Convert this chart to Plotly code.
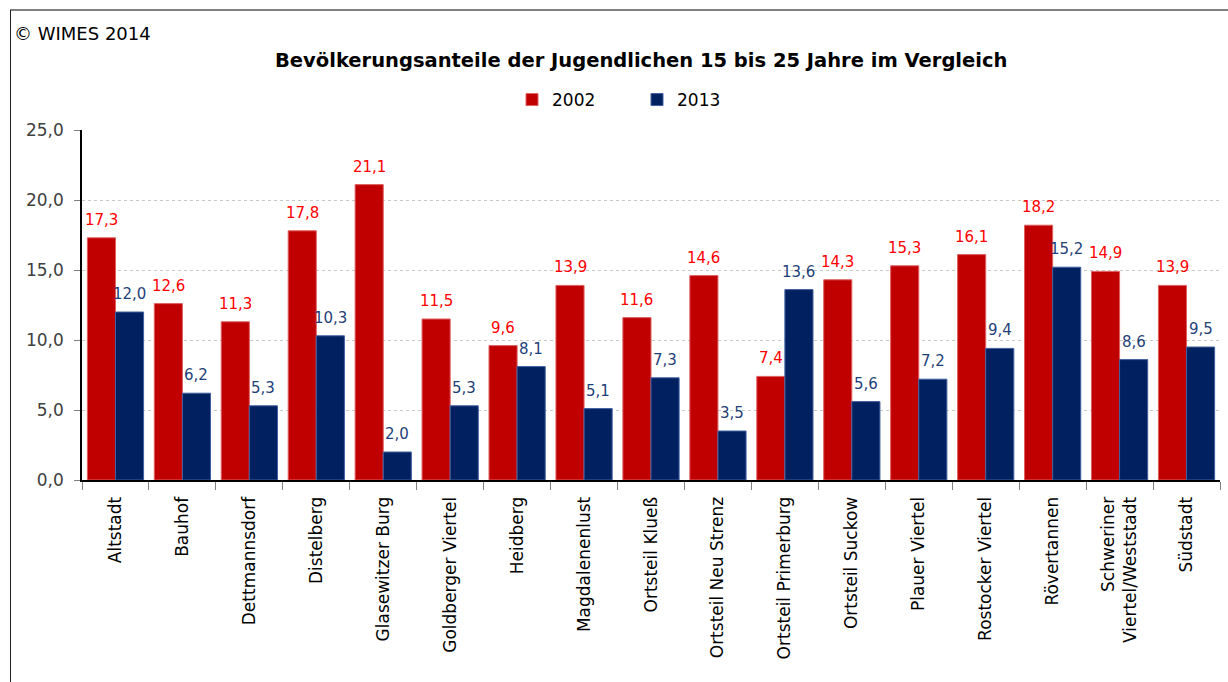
import plotly.graph_objects as go

categories = ["Altstadt", "Bauhof", "Dettmannsdorf", "Distelberg", "Glasewitzer Burg",
              "Goldberger Viertel", "Heidberg", "Magdalenenlust", "Ortsteil Klueß",
              "Ortsteil Neu Strenz", "Ortsteil Primerburg", "Ortsteil Suckow",
              "Plauer Viertel", "Rostocker Viertel", "Rövertannen",
              "Schweriner<br>Viertel/Weststadt", "Südstadt"]
values_2002 = [17.3, 12.6, 11.3, 17.8, 21.1, 11.5, 9.6, 13.9, 11.6, 14.6, 7.4, 14.3, 15.3, 16.1, 18.2, 14.9, 13.9]
values_2013 = [12.0, 6.2, 5.3, 10.3, 2.0, 5.3, 8.1, 5.1, 7.3, 3.5, 13.6, 5.6, 7.2, 9.4, 15.2, 8.6, 9.5]
y_ticks = [0, 5, 10, 15, 20, 25]

W, H = 1228, 682
L, R, T, B = 82, 1220, 130, 480
FONT = "DejaVu Sans"
BARGAP = 0.16

def px_x(p):
    return (p - L) / (R - L)

def px_y(p):
    return (B - p) / (B - T)

fig = go.Figure()
fig.add_trace(go.Bar(
    x=categories, y=values_2002, name="2002",
    marker=dict(color="#C00000", line=dict(color="#E06060", width=1)),
))
fig.add_trace(go.Bar(
    x=categories, y=values_2013, name="2013",
    marker=dict(color="#002060", line=dict(color="#4060A0", width=1)),
))

# data labels centred over each bar
cat_w = (R - L) / len(categories)
half_bar = cat_w * (1 - BARGAP) / 4
annotations = []
for cat, v in zip(categories, values_2002):
    annotations.append(dict(x=cat, y=v, xref="x", yref="y", text=f"{v:.1f}".replace(".", ","),
                            showarrow=False, xshift=-half_bar, yshift=7, yanchor="bottom",
                            font=dict(size=15, family=FONT, color="#FF0000")))
for cat, v in zip(categories, values_2013):
    annotations.append(dict(x=cat, y=v, xref="x", yref="y", text=f"{v:.1f}".replace(".", ","),
                            showarrow=False, xshift=half_bar, yshift=7, yanchor="bottom",
                            font=dict(size=15, family=FONT, color="#1F3F78")))

annotations += [
    dict(text="© WIMES 2014", xref="paper", yref="paper", x=px_x(12), y=px_y(33),
         xanchor="left", yanchor="middle", showarrow=False,
         font=dict(size=18, family=FONT, color="#000000")),
    dict(text="<b>Bevölkerungsanteile der Jugendlichen 15 bis 25 Jahre im Vergleich</b>",
         xref="paper", yref="paper", x=px_x(641), y=px_y(60),
         xanchor="center", yanchor="middle", showarrow=False,
         font=dict(size=19.5, family=FONT, color="#000000")),
]

fig.update_layout(
    width=W, height=H,
    margin=dict(l=L, r=W - R, t=T, b=H - B, pad=0),
    paper_bgcolor="white", plot_bgcolor="white",
    separators=",.",
    barmode="group", bargap=BARGAP, bargroupgap=0,
    font=dict(family=FONT, color="#000000"),
    showlegend=True,
    legend=dict(orientation="h", x=px_x(512), y=px_y(100), xanchor="left", yanchor="middle",
                font=dict(size=17, family=FONT, color="#000000"),
                entrywidth=80, traceorder="normal", bgcolor="rgba(0,0,0,0)"),
    xaxis=dict(
        showline=True, linecolor="#000000", linewidth=2,
        ticks="outside", tickson="boundaries", ticklen=8, tickcolor="#808080",
        tickangle=-90, tickfont=dict(size=17, family=FONT, color="#000000"),
        ticklabelstandoff=8,
        showgrid=False,
    ),
    yaxis=dict(
        range=[0, 25], tickvals=y_ticks, tickformat=".1f",
        showline=True, linecolor="#000000", linewidth=1.5,
        ticks="outside", ticklen=6, tickcolor="#808080",
        tickfont=dict(size=17, family=FONT, color="#404040"),
        ticklabelstandoff=7,
        showgrid=True, gridcolor="#C8C8C8", griddash="dot", gridwidth=1,
        zeroline=False,
    ),
    annotations=annotations,
    shapes=[
        dict(type="line", xref="paper", yref="paper", x0=px_x(10), x1=px_x(1240),
             y0=px_y(10), y1=px_y(10), line=dict(color="#808080", width=2)),
        dict(type="line", xref="paper", yref="paper", x0=px_x(10.5), x1=px_x(10.5),
             y0=px_y(10), y1=px_y(700), line=dict(color="#202020", width=1)),
    ],
)

fig.write_html("out.html", config={"displayModeBar": False},
               post_script="document.body.style.margin='0';")
